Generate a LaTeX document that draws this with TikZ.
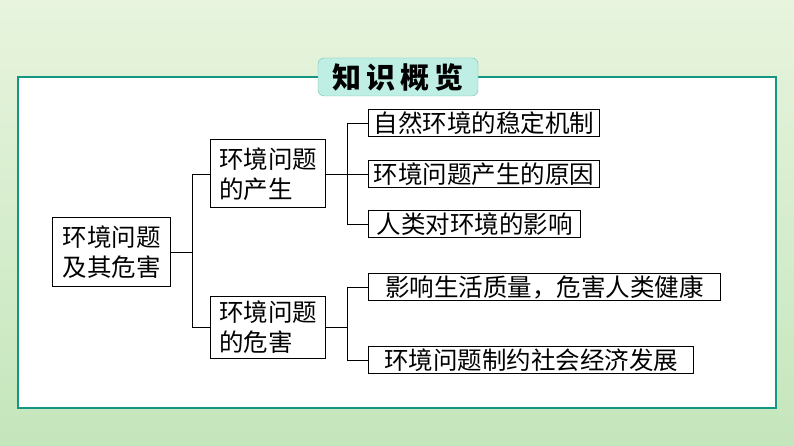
\documentclass[tikz,border=0pt]{standalone}
\usepackage{fontspec}
\newfontfamily\cjk{Noto Sans CJK SC}
\definecolor{bgA}{RGB}{232,244,222}
\definecolor{bgB}{RGB}{196,230,188}
\definecolor{frame}{RGB}{20,150,130}
\definecolor{tab}{RGB}{190,238,228}
\begin{document}
\begin{tikzpicture}[x=1pt,y=-1pt,
  box/.style={draw=black,line width=1pt,fill=white,font=\cjk\fontsize{24.5}{30}\selectfont,inner xsep=5pt,inner ysep=2pt,align=left,anchor=west},
  ln/.style={line width=0.9pt}]
\shade[top color=bgA,bottom color=bgB] (0,0) rectangle (794,446);
\draw[fill=white,draw=frame,line width=1.2pt] (18,77) rectangle (776,408);
\node[draw=frame!60,fill=tab,rounded corners=6pt,minimum width=160pt,minimum height=38pt,font=\cjk\bfseries\fontsize{29}{32}\selectfont] (t) at (398,77) {知\,识\,概\,览};
\node[box,minimum height=69pt,minimum width=118pt,inner xsep=3pt] (r) at (52,252) {环境问题\\及其危害};
\node[box,minimum height=68pt,minimum width=115pt,inner xsep=3pt] (a) at (210,174) {环境问题\\的产生};
\node[box,minimum height=62pt,minimum width=115pt,inner xsep=3pt] (b) at (210,327) {环境问题\\的危害};
\node[box,minimum width=207pt] (a1) at (368,123) {自然环境的稳定机制};
\node[box,minimum width=220pt] (a2) at (368,174) {环境问题产生的原因};
\node[box,minimum width=212pt] (a3) at (368,224) {人类对环境的影响};
\node[box,minimum width=352pt] (b1) at (368,287) {影响生活质量，危害人类健康};
\node[box,minimum width=325pt] (b2) at (368,360) {环境问题制约社会经济发展};
\coordinate (p) at (192,252);
\coordinate (q) at (347,174);
\coordinate (s) at (347,327);
\draw[ln] (r.east) -- (p) (p|-a.west) -- (a.west) (p|-b.west) -- (b.west) (p|-a.west) -- (p|-b.west);
\draw[ln] (a.east) -- (q) (q|-a1.west) -- (a1.west) (q|-a2.west) -- (a2.west) (q|-a3.west) -- (a3.west) (q|-a1.west) -- (q|-a3.west);
\draw[ln] (b.east) -- (s) (s|-b1.west) -- (b1.west) (s|-b2.west) -- (b2.west) (s|-b1.west) -- (s|-b2.west);
\end{tikzpicture}
\end{document}
